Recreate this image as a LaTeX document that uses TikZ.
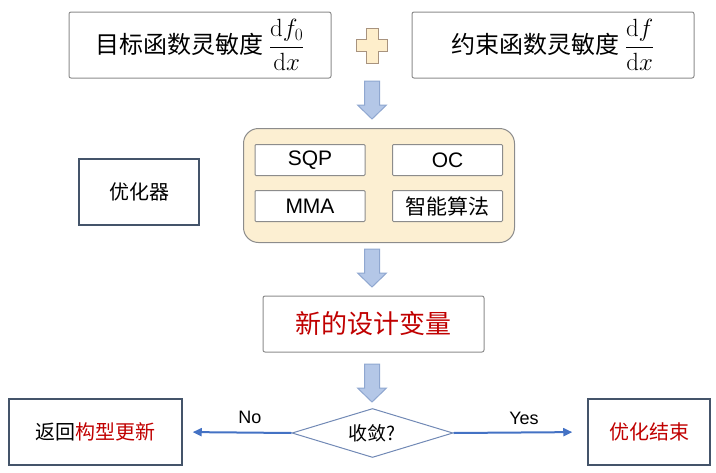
\documentclass[tikz,border=0pt]{standalone}
\usepackage{amsmath}
\usepackage[no-math]{fontspec}
\setmainfont{Liberation Sans}
\newfontfamily\cjk{Noto Sans CJK SC}
\usetikzlibrary{shapes.geometric}
\usetikzlibrary{arrows.meta}
\definecolor{boxgray}{HTML}{8C8C8C}
\definecolor{slate}{HTML}{44546A}
\definecolor{darkred}{HTML}{C00000}
\definecolor{paleyellow}{HTML}{FCEFD2}
\definecolor{plusfill}{HTML}{FEEECB}
\definecolor{plusedge}{HTML}{A8937E}
\definecolor{arrowfill}{HTML}{B4C7E7}
\definecolor{arrowedge}{HTML}{8FA7D0}
\definecolor{linkblue}{HTML}{4472C4}
\definecolor{diamedge}{HTML}{7189B5}
\tikzstyle{box}=[draw=boxgray, line width=1pt, inner sep=0pt, rounded corners=2pt]
\tikzstyle{sensbox}=[box, minimum height=66pt, font=\cjk\fontsize{24}{28}\selectfont]
\tikzstyle{algbox}=[box, fill=white, rounded corners=1pt, minimum width=110pt, minimum height=31pt]
\tikzstyle{endbox}=[draw=slate, line width=1.5pt, inner sep=0pt, minimum height=66pt, font=\cjk\fontsize{20}{24}\selectfont]
\tikzstyle{link}=[draw=linkblue, line width=2pt, -{Triangle[length=9pt,width=8pt]}]
\tikzstyle{answer}=[inner sep=0pt, font=\fontsize{18}{20}\selectfont]
\tikzset{downarrow/.pic={
  \draw[fill=arrowfill, draw=arrowedge, line width=1pt] (-7.5,0) -- (-7.5,24) -- (-14.5,24) -- (0,38) -- (14.5,24) -- (7.5,24) -- (7.5,0) -- cycle;
}}
\begin{document}
\begin{tikzpicture}[x=1pt, y=-1pt]
    \useasboundingbox (0,0) rectangle (716,472);
        \node[sensbox, minimum width=262pt] (obj) at (200,45) {目标函数灵敏度 \(\dfrac{\mathrm{d}f_0}{\mathrm{d}x}\)};
        \node[sensbox, minimum width=282pt] (con) at (553,45) {约束函数灵敏度 \(\dfrac{\mathrm{d}f}{\mathrm{d}x}\)};
        \draw[fill=plusfill, draw=plusedge, line width=1pt] (366,28) -- (378,28) -- (378,39) -- (387,39) -- (387,51) -- (378,51) -- (378,63) -- (366,63) -- (366,51) -- (356,51) -- (356,39) -- (366,39) -- cycle;
        \pic at (372,81) {downarrow};
        \node[box, fill=paleyellow, rounded corners=15pt, minimum width=271pt, minimum height=114pt] (opt) at (379,185.5) {};
        \node[algbox, font=\fontsize{21}{24}\selectfont] (sqp) at (310,160) {SQP};
        \node[algbox, font=\fontsize{21}{24}\selectfont] (oc) at (447.5,160) {OC};
        \node[algbox, font=\fontsize{21}{24}\selectfont] (mma) at (310,206) {MMA};
        \node[algbox, font=\cjk\fontsize{21}{24}\selectfont] (smart) at (447.5,206) {智能算法};
        \node[endbox, minimum width=120pt] (optimizer) at (139,192) {优化器};
        \pic at (372,249) {downarrow};
        \node[box, minimum width=221pt, minimum height=56pt, text=darkred, font=\cjk\fontsize{26}{30}\selectfont] (newvar) at (373.5,324) {新的设计变量};
        \pic at (372,364) {downarrow};
        \node[diamond, draw=diamedge, line width=1pt, inner sep=0pt, aspect=3.3, minimum width=161pt, minimum height=49pt, font=\cjk\fontsize{19}{22}\selectfont] (conv) at (372.5,433) {收敛?};
        \node[endbox, minimum width=173pt] (back) at (95.5,432) {返回\textcolor{darkred}{构型更新}};
        \node[endbox, minimum width=122pt, text=darkred] (finish) at (649,432) {优化结束};
        \draw[link, shorten >=10pt] (conv.west) -- (back.east);
        \draw[link, shorten >=15pt] (conv.east) -- (finish.west);
        \node[answer] (no) at (250,417.5) {No};
        \node[answer] (yes) at (524,418.5) {Yes};
    \end{tikzpicture}
\end{document}
